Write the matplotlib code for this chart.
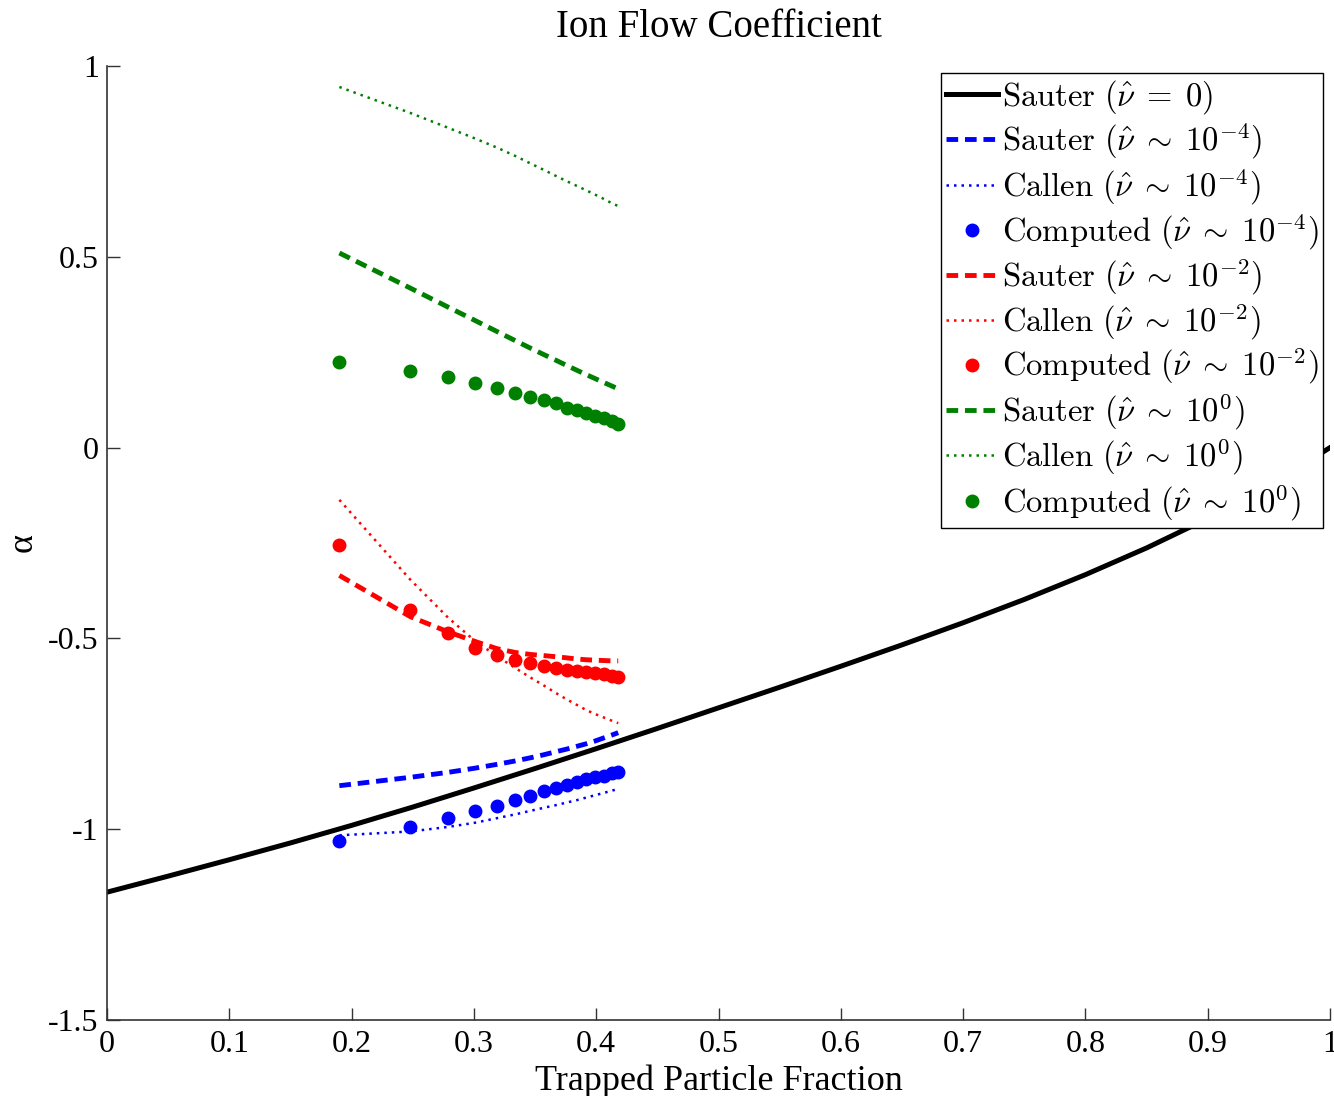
import matplotlib
matplotlib.use("Agg")
import matplotlib.pyplot as plt

plt.rcParams['font.family'] = ['Liberation Serif', 'DejaVu Serif']
plt.rcParams['mathtext.fontset'] = 'cm'
plt.rcParams['axes.unicode_minus'] = False

# Sauter (nu = 0) curve
x_sauter0 = [0.0, 0.05, 0.1, 0.15, 0.2, 0.25, 0.3, 0.35, 0.4, 0.45, 0.5, 0.55,
             0.6, 0.65, 0.7, 0.75, 0.8, 0.85, 0.9, 0.95, 1.0]
y_sauter0 = [-1.165, -1.123, -1.080, -1.036, -0.990, -0.942, -0.892, -0.841,
             -0.789, -0.736, -0.682, -0.628, -0.573, -0.517, -0.459, -0.398,
             -0.333, -0.263, -0.186, -0.100, 0.0]

# trapped particle fraction for the finite-collisionality cases
ft = [0.190, 0.248, 0.279, 0.301, 0.319, 0.334, 0.346, 0.357, 0.367, 0.376,
      0.384, 0.392, 0.399, 0.406, 0.413, 0.418]

sauter_m4 = [-0.886, -0.864, -0.851, -0.840, -0.830, -0.821, -0.813, -0.805,
             -0.797, -0.790, -0.783, -0.776, -0.769, -0.761, -0.753, -0.747]
callen_m4 = [-1.016, -1.006, -0.994, -0.983, -0.971, -0.961, -0.952, -0.944,
             -0.937, -0.930, -0.924, -0.917, -0.911, -0.905, -0.899, -0.894]
computed_m4 = [-1.030, -0.995, -0.970, -0.951, -0.938, -0.923, -0.912, -0.900,
               -0.891, -0.884, -0.876, -0.869, -0.864, -0.860, -0.854, -0.851]

sauter_m2 = [-0.335, -0.443, -0.483, -0.508, -0.527, -0.537, -0.542, -0.545,
             -0.548, -0.551, -0.554, -0.556, -0.557, -0.558, -0.559, -0.559]
callen_m2 = [-0.137, -0.346, -0.446, -0.507, -0.547, -0.578, -0.602, -0.623,
             -0.643, -0.660, -0.674, -0.688, -0.698, -0.707, -0.716, -0.722]
computed_m2 = [-0.254, -0.426, -0.487, -0.524, -0.543, -0.557, -0.565, -0.572,
               -0.577, -0.583, -0.585, -0.589, -0.591, -0.594, -0.598, -0.600]

sauter_0 = [0.510, 0.418, 0.368, 0.333, 0.304, 0.280, 0.261, 0.244,
            0.229, 0.215, 0.203, 0.191, 0.181, 0.171, 0.161, 0.154]
callen_0 = [0.945, 0.877, 0.838, 0.810, 0.786, 0.764, 0.745, 0.728,
            0.712, 0.698, 0.686, 0.674, 0.663, 0.652, 0.640, 0.633]
computed_0 = [0.225, 0.2015, 0.186, 0.170, 0.157, 0.144, 0.133, 0.125,
              0.116, 0.105, 0.099, 0.090, 0.084, 0.077, 0.070, 0.062]

labels = [r"$\mathrm{Sauter}\ (\hat{\nu}\;=\;0)$",
          r"$\mathrm{Sauter}\ (\hat{\nu}\;\sim\;10^{-4})$",
          r"$\mathrm{Callen}\ (\hat{\nu}\;\sim\;10^{-4})$",
          r"$\mathrm{Computed}\ (\hat{\nu}\;\sim\;10^{-4})$",
          r"$\mathrm{Sauter}\ (\hat{\nu}\;\sim\;10^{-2})$",
          r"$\mathrm{Callen}\ (\hat{\nu}\;\sim\;10^{-2})$",
          r"$\mathrm{Computed}\ (\hat{\nu}\;\sim\;10^{-2})$",
          r"$\mathrm{Sauter}\ (\hat{\nu}\;\sim\;10^{0})$",
          r"$\mathrm{Callen}\ (\hat{\nu}\;\sim\;10^{0})$",
          r"$\mathrm{Computed}\ (\hat{\nu}\;\sim\;10^{0})$"]

fig = plt.figure(figsize=(13.34, 10.96), dpi=100)
ax = fig.add_axes([107/1334, 1-1020/1096, 1223/1334, 954/1096])

green = (0, 0.5, 0)
dash = (0, (2.4, 1.4))
dot = (0, (1, 2.0))
lw_d = 3.5
lw_dot = 1.8
ms = 9

ax.plot(x_sauter0, y_sauter0, color='black', lw=3.6, label=labels[0])
ax.plot(ft, sauter_m4, color='blue', lw=lw_d, ls=dash, label=labels[1])
ax.plot(ft, callen_m4, color='blue', lw=lw_dot, ls=dot, label=labels[2])
ax.plot(ft, computed_m4, color='blue', ls='none', marker='o', ms=ms, label=labels[3])
ax.plot(ft, sauter_m2, color='red', lw=lw_d, ls=dash, label=labels[4])
ax.plot(ft, callen_m2, color='red', lw=lw_dot, ls=dot, label=labels[5])
ax.plot(ft, computed_m2, color='red', ls='none', marker='o', ms=ms, label=labels[6])
ax.plot(ft, sauter_0, color=green, lw=lw_d, ls=dash, label=labels[7])
ax.plot(ft, callen_0, color=green, lw=lw_dot, ls=dot, label=labels[8])
ax.plot(ft, computed_0, color=green, ls='none', marker='o', ms=ms, label=labels[9])

ax.set_xlim(0, 1)
ax.set_ylim(-1.5, 1)
xt = [0, 0.1, 0.2, 0.3, 0.4, 0.5, 0.6, 0.7, 0.8, 0.9, 1]
ax.set_xticks(xt)
ax.set_xticklabels(["0", "0.1", "0.2", "0.3", "0.4", "0.5", "0.6", "0.7", "0.8", "0.9", "1"])
yt = [-1.5, -1, -0.5, 0, 0.5, 1]
ax.set_yticks(yt)
ax.set_yticklabels(["-1.5", "-1", "-0.5", "0", "0.5", "1"])
ax.tick_params(direction='in', length=9, width=1.0, labelsize=23, color='#333333')
ax.tick_params(axis='x', pad=7)
ax.tick_params(axis='y', pad=6)
for s in ['top', 'right']:
    ax.spines[s].set_visible(False)
for s in ['left', 'bottom']:
    ax.spines[s].set_color('#333333')
    ax.spines[s].set_linewidth(1.2)

ax.set_title("Ion Flow Coefficient", fontsize=28, pad=21)
ax.set_xlabel("Trapped Particle Fraction", fontsize=26, labelpad=4)
ax.set_ylabel("α", fontsize=26, labelpad=6)

leg = ax.legend(loc='upper right', bbox_to_anchor=(0.9943, 0.9927), borderaxespad=0,
                fontsize=23.5, frameon=True, fancybox=False, framealpha=1,
                edgecolor='black', handlelength=1.6, handletextpad=0.1,
                labelspacing=0.15, borderpad=0.15, numpoints=1)
leg.get_frame().set_linewidth(1.0)
leg.set_zorder(5)

fig.savefig("out.png", dpi=100)
